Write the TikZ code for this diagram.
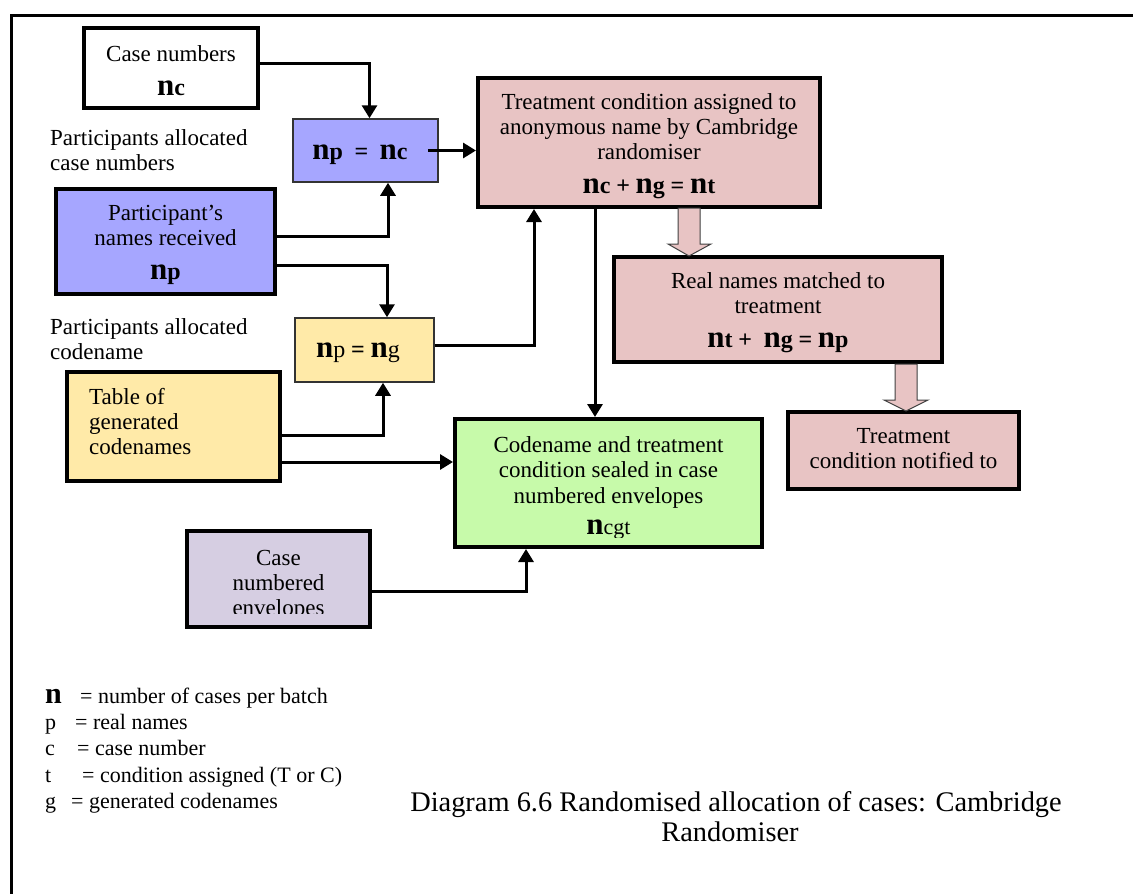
\documentclass[tikz,border=0pt]{standalone}
\usepackage{fontspec}
\setmainfont{Liberation Serif}
\usetikzlibrary{arrows.meta,calc}

\definecolor{boxblue}{RGB}{166,166,255}
\definecolor{boxpink}{RGB}{232,196,196}
\definecolor{boxgreen}{RGB}{199,250,170}
\definecolor{boxyellow}{RGB}{255,234,168}
\definecolor{boxlilac}{RGB}{214,206,226}

% large bold n and the index letters that follow it
\newcommand\bigN{{\fontsize{31}{31}\selectfont\bfseries n}}
\newcommand\ix[1]{{\fontsize{24}{24}\selectfont\bfseries #1}}
\newcommand\rx[1]{{\fontsize{24}{24}\selectfont #1}}

\tikzset{
  thickbox/.style={rectangle, draw=black, line width=4pt, inner sep=0pt},
  thinbox/.style={rectangle, draw=black!80, line width=1.5pt, inner sep=0pt},
  boxtext/.style={align=center, inner sep=0pt, anchor=north},
  conn/.style={line width=3pt, -{Triangle[width=15pt,length=13pt]}},
  fatarrow/.style={fill=boxpink, draw=black!75, line width=1pt, line join=miter},
  label/.style={align=left, inner sep=0pt},
  legend/.style={anchor=base west, inner sep=0pt, font=\fontsize{22}{25}\selectfont}
}

\begin{document}
\begin{tikzpicture}[x=1pt, y=-1pt, font=\fontsize{23}{25}\selectfont]
\useasboundingbox (0,0) rectangle (1133,894);

% outer frame (top and left edges)
\draw[line width=3pt] (11,894) -- (11,15) -- (1133,15);

% ---- boxes ----
\node[thickbox, minimum width=174pt, minimum height=80pt] (casebox) at (171,68) {};
\node[boxtext] (casetext) at (171,45) {Case numbers\\[9pt]\bigN\ix{c}};

\node[thinbox, fill=boxblue, minimum width=145pt, minimum height=63pt] (npc) at (365.5,150.5) {};
\node[inner sep=0pt, anchor=base] (npctext) at (360,159) {\bigN\ix{p}\ \ \ix{=}\ \ \bigN\ix{c}};

\node[thickbox, fill=boxblue, minimum width=219pt, minimum height=105pt] (partbox) at (165.5,241.5) {};
\node[boxtext] (parttext) at (165.5,205) {Participant’s\\names received\\[9pt]\bigN\ix{p}};

\node[thinbox, fill=boxyellow, minimum width=139pt, minimum height=64pt] (npg) at (364.5,350) {};
\node[inner sep=0pt, anchor=base] (npgtext) at (358,357) {\bigN\rx{p} \ix{=} \bigN\rx{g}};

\node[thickbox, fill=boxyellow, minimum width=213pt, minimum height=109pt] (tablebox) at (173.5,426.5) {};
\node[label, anchor=north west] (tabletext) at (89,388) {Table of\\generated\\codenames};

\node[thickbox, fill=boxlilac, minimum width=183pt, minimum height=96pt] (envbox) at (278.5,579) {};
\begin{scope}
  \clip (190,534) rectangle (368,613);
  \node[boxtext] (envtext) at (278.5,550) {Case\\numbered\\envelopes};
\end{scope}

\node[thickbox, fill=boxgreen, minimum width=307pt, minimum height=128pt] (greenbox) at (608.5,483) {};
\begin{scope}
  \clip (458,421) rectangle (760,537);
  \node[boxtext, font=\fontsize{23}{25.5}\selectfont] (greentext) at (608.5,436)
    {Codename and treatment\\condition sealed in case\\numbered envelopes\\[6pt]\bigN{\fontsize{22}{22}\selectfont cgt}};
\end{scope}

\node[thickbox, fill=boxpink, minimum width=342pt, minimum height=129pt] (pink1) at (649,142.5) {};
\node[boxtext] (pink1text) at (649,93)
  {Treatment condition assigned to\\anonymous name by Cambridge\\randomiser\\[9pt]\bigN\ix{c} \ix{+} \bigN\ix{g} \ix{=} \bigN\ix{t}};

\node[thickbox, fill=boxpink, minimum width=328pt, minimum height=105pt] (pink2) at (778,309.5) {};
\node[boxtext] (pink2text) at (778,272)
  {Real names matched to\\treatment\\[9pt]\bigN\ix{t} \ix{+}\ \ \bigN\ix{g} \ix{=} \bigN\ix{p}};

\node[thickbox, fill=boxpink, minimum width=231pt, minimum height=77pt] (pink3) at (903.5,450.5) {};
\node[boxtext] (pink3text) at (903.5,428) {Treatment\\condition notified to};

% ---- side labels ----
\node[label, anchor=west] (lab1) at (50,150) {Participants allocated\\case numbers};
\node[label, anchor=west] (lab2) at (50,339.5) {Participants allocated\\codename};

% ---- connectors ----
\draw[conn] ([yshift=5pt]casebox.east) -| ([xshift=4pt]npc.north);
\draw[conn] ([xshift=-11pt]npc.east) -- (pink1.west |- npc.east);
\draw[conn] ([yshift=5.5pt]partbox.east) -| ([xshift=22.5pt]npc.south);
\draw[conn] ([yshift=-23.5pt]partbox.east) -| ([xshift=22.5pt]npg.north);
\draw[conn] ([yshift=5pt]npg.east) -| ([xshift=-115pt]pink1.south);
\draw[conn] ([yshift=-8.5pt]tablebox.east) -| ([xshift=18.5pt]npg.south);
\coordinate (tb2) at ([yshift=-35.5pt]tablebox.east);
\draw[conn] (tb2) -- (tb2 -| greenbox.west);
\draw[conn] ([yshift=-12pt]envbox.east) -| ([xshift=-82.5pt]greenbox.south);
\coordinate (p1d) at ([xshift=-54pt]pink1.south);
\draw[conn] (p1d) -- (p1d |- greenbox.north);

% hollow block arrows between the pink boxes
\draw[fatarrow] (678,208) -- (700,208) -- (700,244) -- (711,244) -- (689,256)
  -- (668,244) -- (678,244) -- cycle;
\draw[fatarrow] (895,364) -- (917,364) -- (917,400) -- (928,400) -- (906,411)
  -- (884,400) -- (895,400) -- cycle;

% ---- legend ----
\node[legend] (kn) at (45,703) {\fontsize{30}{30}\selectfont\bfseries n};
\node[legend] (kn2) at (80,703) {= number of cases per batch};
\node[legend] (kp) at (45,729) {p};
\node[legend] (kp2) at (75,729) {= real names};
\node[legend] (kc) at (45,755) {c};
\node[legend] (kc2) at (77,755) {= case number};
\node[legend] (kt) at (45,782) {t};
\node[legend] (kt2) at (82,782) {= condition assigned (T or C)};
\node[legend] (kg) at (45,808) {g};
\node[legend] (kg2) at (71,808) {= generated codenames};

% ---- caption ----
\node[anchor=base, inner sep=0pt, font=\fontsize{28.4}{31}\selectfont] (cap1) at (736,811)
  {Diagram 6.6 Randomised allocation of cases: Cambridge};
\node[anchor=base, inner sep=0pt, font=\fontsize{28.4}{31}\selectfont] (cap2) at (730,841)
  {Randomiser};
\end{tikzpicture}
\end{document}
